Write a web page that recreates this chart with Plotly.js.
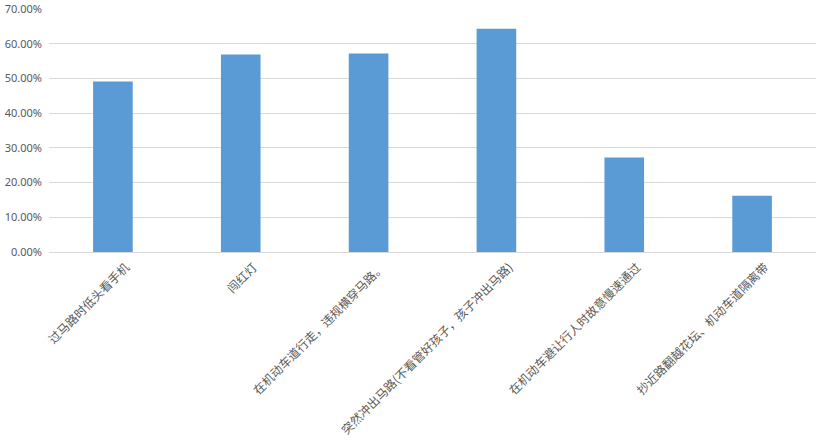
<!DOCTYPE html>
<html>
<head>
<meta charset="utf-8">
<script src="https://cdn.plot.ly/plotly-3.0.1.min.js"></script>
<style>
  html, body { margin: 0; padding: 0; background: #fff; }
  #chart { width: 824px; height: 444px; }
</style>
</head>
<body>
<div id="chart"></div>
<script>
// catégories et valeurs
const categories = [
  '过马路时低头看手机',
  '闯红灯',
  '在机动车道行走，违规横穿马路。',
  '突然冲出马路(不看管好孩子，孩子冲出马路)',
  '在机动车避让行人时故意慢速通过',
  '抄近路翻越花坛、机动车道隔离带'
];
const values = [0.491, 0.569, 0.572, 0.643, 0.272, 0.162];
const yTicks = [0, 0.1, 0.2, 0.3, 0.4, 0.5, 0.6, 0.7];

const grey = '#595959';

const data = [{
  type: 'bar',
  x: categories,
  y: values,
  marker: { color: '#5b9bd5' },
  hoverinfo: 'x+y',
  showlegend: false
}];

const layout = {
  width: 824,
  height: 444,
  margin: { l: 49, r: 8, t: 9, b: 192, pad: 0 },
  paper_bgcolor: '#ffffff',
  plot_bgcolor: '#ffffff',
  bargap: 0.69,
  xaxis: {
    type: 'category',
    tickangle: -45,
    automargin: false,
    showgrid: false,
    showline: false,
    zeroline: false,
    ticks: '',
    ticklabelshift: 13,
    ticklabelstandoff: 5,
    tickfont: { family: '"Noto Sans CJK SC", sans-serif', size: 12, color: grey }
  },
  yaxis: {
    range: [0, 0.7],
    tickvals: yTicks,
    tickformat: '.2%',
    automargin: false,
    showgrid: true,
    gridcolor: '#d9d9d9',
    gridwidth: 1,
    zeroline: true,
    zerolinecolor: '#d9d9d9',
    zerolinewidth: 1,
    showline: false,
    ticks: '',
    ticklabelstandoff: 6,
    tickfont: { family: '"Noto Sans", sans-serif', size: 11, color: grey }
  }
};

Plotly.newPlot('chart', data, layout, { displayModeBar: false, staticPlot: true });
</script>
</body>
</html>
